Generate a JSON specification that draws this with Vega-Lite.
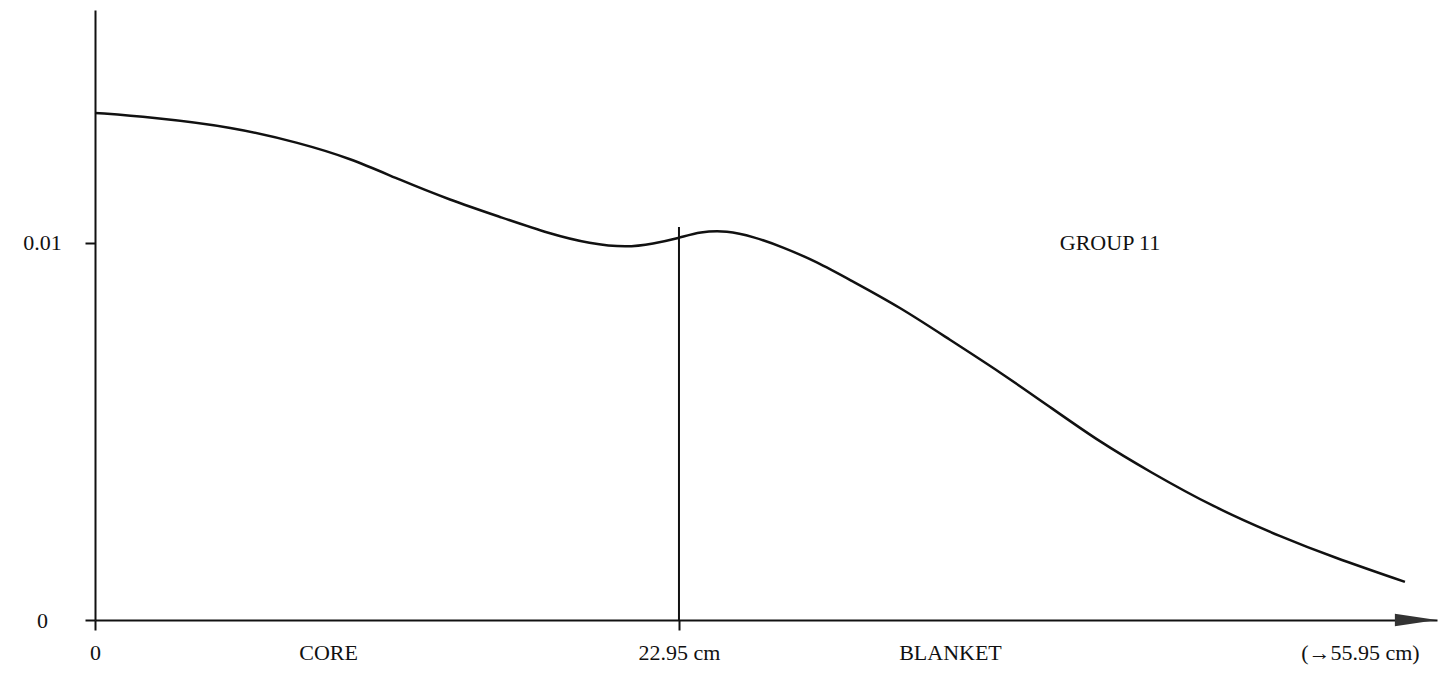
{
  "$schema": "https://vega.github.io/schema/vega-lite/v6.json",
  "autosize": "none",
  "width": 1342,
  "height": 610,
  "padding": {"left": 95, "top": 10, "right": 12, "bottom": 67},
  "background": "white",
  "config": {
    "view": {"stroke": null},
    "font": "Liberation Serif",
    "axis": {"grid": false, "domainColor": "#111", "tickColor": "#111", "labelColor": "#111", "labelFont": "Liberation Serif", "labelFontSize": 22, "title": null}
  },
  "datasets": {
    "curve": [
      {"x": 0, "y": 0.01345},
      {"x": 2.16, "y": 0.01334},
      {"x": 5.42, "y": 0.01308},
      {"x": 8.06, "y": 0.01265},
      {"x": 10.02, "y": 0.01225},
      {"x": 11.99, "y": 0.01167},
      {"x": 13.95, "y": 0.01114},
      {"x": 15.92, "y": 0.01069},
      {"x": 17.88, "y": 0.01024},
      {"x": 19.45, "y": 0.00998},
      {"x": 20.91, "y": 0.00988},
      {"x": 21.93, "y": 0.00998},
      {"x": 22.95, "y": 0.01013},
      {"x": 23.77, "y": 0.01030},
      {"x": 24.84, "y": 0.01033},
      {"x": 25.86, "y": 0.01017},
      {"x": 27.04, "y": 0.00989},
      {"x": 28.37, "y": 0.00950},
      {"x": 29.67, "y": 0.00902},
      {"x": 31.63, "y": 0.00830},
      {"x": 33.60, "y": 0.00743},
      {"x": 35.56, "y": 0.00658},
      {"x": 37.53, "y": 0.00565},
      {"x": 39.49, "y": 0.00472},
      {"x": 41.46, "y": 0.00393},
      {"x": 43.93, "y": 0.00300},
      {"x": 46.69, "y": 0.00218},
      {"x": 48.65, "y": 0.00167},
      {"x": 51.48, "y": 0.00101}
    ]
  },
  "encoding": {
    "x": {"field": "x", "type": "quantitative", "scale": {"domain": [0, 52.74], "nice": false, "zero": false}},
    "y": {"field": "y", "type": "quantitative", "scale": {"domain": [0, 0.01618], "nice": false}}
  },
  "layer": [
    {
      "data": {"name": "curve"},
      "mark": {"type": "line", "interpolate": "basis", "color": "#111", "strokeWidth": 2.5},
      "encoding": {
        "x": {"field": "x", "type": "quantitative",
          "axis": {
            "orient": "bottom", "offset": 0, "domainWidth": 2, "tickWidth": 2, "tickSize": 10,
            "values": [0, 9.16, 22.95, 33.6, 49.71],
            "labelExpr": "datum.value == 0 ? '0' : datum.value == 22.95 ? '22.95 cm' : datum.value < 12 ? 'CORE' : datum.value < 40 ? 'BLANKET' : '(→55.95 cm)'",
            "tickColor": {"condition": {"test": "datum.value == 0 || datum.value == 22.95", "value": "#111"}, "value": "transparent"},
            "labelPadding": 22, "labelFlush": false, "labelOverlap": false, "labelBaseline": "middle", "labelAlign": "center"
          }
        },
        "y": {"field": "y", "type": "quantitative",
          "axis": {
            "orient": "left", "domainWidth": 2, "tickWidth": 2, "tickSize": 10,
            "values": [0, 0.01],
            "labelExpr": "datum.value == 0 ? '0' : '0.01'",
            "labelAlign": "center", "labelPadding": 43, "labelBaseline": "middle", "labelFlush": false
          }
        }
      }
    },
    {
      "data": {"values": [{"x": 22.95, "y": 0, "y2": 0.010424}]},
      "mark": {"type": "rule", "color": "#111", "strokeWidth": 2},
      "encoding": {
        "x": {"field": "x", "type": "quantitative"},
        "y": {"field": "y", "type": "quantitative"},
        "y2": {"field": "y2"}
      }
    },
    {
      "data": {"values": [{"x": 51.91, "y": 0}]},
      "mark": {"type": "point", "shape": "M-1,-0.3L1,0L-1,0.3Z", "size": 1764, "filled": true, "color": "#333", "opacity": 1},
      "encoding": {
        "x": {"field": "x", "type": "quantitative"},
        "y": {"field": "y", "type": "quantitative"}
      }
    },
    {
      "data": {"values": [{"x": 39.89, "y": 0.01, "text": "GROUP 11"}]},
      "mark": {"type": "text", "font": "Liberation Serif", "fontSize": 22, "color": "#111", "align": "center", "baseline": "middle"},
      "encoding": {
        "x": {"field": "x", "type": "quantitative"},
        "y": {"field": "y", "type": "quantitative"},
        "text": {"field": "text"}
      }
    }
  ]
}
